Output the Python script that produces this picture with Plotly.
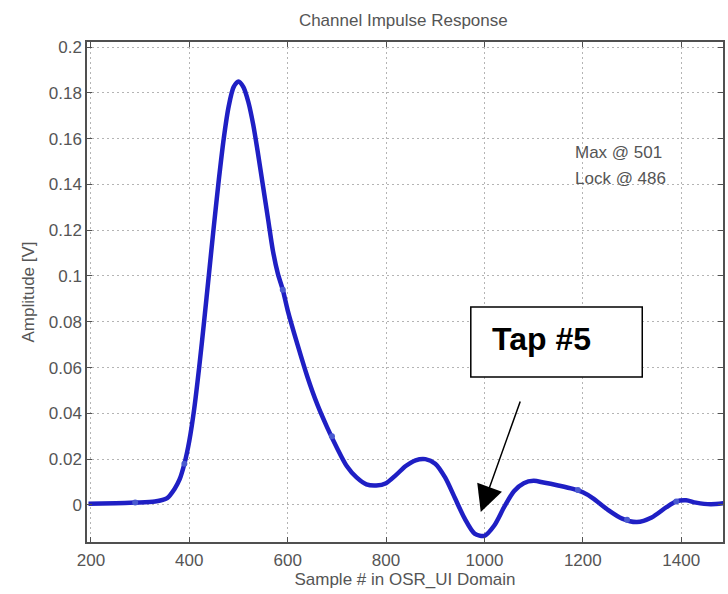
import plotly.graph_objects as go

samples = [195, 250, 290, 330, 355, 370, 380, 390, 400, 410, 420, 430, 440, 450, 460, 470, 480, 490, 500,
           510, 520, 530, 540, 550, 560, 570, 580, 590, 600, 620, 640, 660, 680, 700, 720, 740, 760, 780,
           800, 820, 840, 860, 880, 900, 920, 940, 960, 980, 1000, 1020, 1040, 1060, 1080, 1100, 1120,
           1150, 1180, 1200, 1220, 1250, 1280, 1310, 1340, 1370, 1390, 1410, 1430, 1460, 1490]
amplitude = [0.0005, 0.0007, 0.001, 0.0015, 0.003, 0.007, 0.011, 0.018, 0.028, 0.042, 0.060, 0.080, 0.101,
             0.122, 0.142, 0.160, 0.174, 0.1825, 0.185, 0.1825, 0.176, 0.166, 0.153, 0.139, 0.125, 0.111,
             0.101, 0.094, 0.085, 0.070, 0.056, 0.044, 0.034, 0.025, 0.017, 0.012, 0.009, 0.0085, 0.0095,
             0.013, 0.017, 0.0195, 0.020, 0.018, 0.012, 0.003, -0.006, -0.0125, -0.0135, -0.009, -0.001,
             0.006, 0.0095, 0.0105, 0.0098, 0.0085, 0.007, 0.0055, 0.003, -0.002, -0.006, -0.0075, -0.0055,
             -0.001, 0.0015, 0.002, 0.001, 0.0003, 0.0008]

marker_samples = [290, 390, 590, 690, 1190, 1290, 1390]
marker_values = [0.001, 0.018, 0.094, 0.030, 0.0065, -0.0065, 0.0015]

x_ticks = [200, 400, 600, 800, 1000, 1200, 1400]
y_ticks = [0, 0.02, 0.04, 0.06, 0.08, 0.1, 0.12, 0.14, 0.16, 0.18, 0.2]
y_tick_labels = ["0", "0.02", "0.04", "0.06", "0.08", "0.1", "0.12", "0.14", "0.16", "0.18", "0.2"]

title_text = "Channel Impulse Response"
x_title = "Sample # in OSR_UI Domain"
y_title = "Amplitude [V]"
note_line1 = "Max @ 501"
note_line2 = "Lock @ 486"
callout_text = "Tap #5"

line_color = "#1f1fc4"
gray = "#555555"
FONT = "Liberation Sans, Arial"

fig = go.Figure()
fig.add_trace(go.Scatter(x=samples, y=amplitude, mode="lines",
                         line=dict(color=line_color, width=4.5, shape="spline", smoothing=0.8),
                         showlegend=False, hoverinfo="skip"))
fig.add_trace(go.Scatter(x=marker_samples, y=marker_values, mode="markers",
                         marker=dict(color="#4a5ad0", size=6, symbol="circle"),
                         showlegend=False, hoverinfo="skip"))

axis_common = dict(showline=True, linecolor="#505050", linewidth=1.5, mirror="ticks",
                   ticks="inside", ticklen=5, tickcolor="#505050",
                   showgrid=True, gridcolor="#b4b4b4", griddash="2px,3px", gridwidth=1,
                   zeroline=False, tickfont=dict(family=FONT, size=17, color=gray))

fig.update_layout(
    width=728, height=594,
    margin=dict(l=87, r=3, t=42, b=52),
    paper_bgcolor="white", plot_bgcolor="white",
    title=dict(text=title_text, x=0.554, xanchor="center", y=1 - 20 / 594, yref="container",
               yanchor="middle",
               font=dict(family=FONT, size=17, color=gray)),
    xaxis=dict(range=[192, 1485], tickvals=x_ticks, ticklabelstandoff=2,
               title=dict(text=x_title, standoff=4, font=dict(family=FONT, size=17, color=gray)),
               **axis_common),
    yaxis=dict(range=[-0.0162, 0.2022], tickvals=y_ticks, ticktext=y_tick_labels,
               title=dict(text=y_title, standoff=10, font=dict(family=FONT, size=17, color=gray)),
               **axis_common),
)

fig.add_annotation(xref="paper", yref="paper", x=(575 - 87) / 638, y=(542 - 152) / 500,
                   text=note_line1, showarrow=False, xanchor="left", yanchor="middle",
                   font=dict(family=FONT, size=17, color=gray))
fig.add_annotation(xref="paper", yref="paper", x=(575 - 87) / 638, y=(542 - 178) / 500,
                   text=note_line2, showarrow=False, xanchor="left", yanchor="middle",
                   font=dict(family=FONT, size=17, color=gray))

# callout box "Tap #5"
fig.add_shape(type="rect", xref="paper", yref="paper",
              x0=(472 - 87) / 638, x1=(644 - 87) / 638,
              y0=(542 - 377) / 500, y1=(542 - 307) / 500,
              line=dict(color="black", width=1.5), fillcolor="white", layer="above")
fig.add_annotation(xref="paper", yref="paper", x=(543 - 87) / 638, y=(542 - 339) / 500,
                   xanchor="center", yanchor="middle",
                   text="<b>" + callout_text + "</b>", showarrow=False,
                   font=dict(family=FONT, size=32, color="black"))
fig.add_annotation(xref="paper", yref="paper", axref="pixel", ayref="pixel",
                   x=(482 - 87) / 638, y=(542 - 512) / 500,
                   ax=40, ay=-112,
                   text="", showarrow=True, arrowhead=2, arrowsize=3.5, arrowwidth=1.5, arrowcolor="black")

fig.write_html("out.html")
